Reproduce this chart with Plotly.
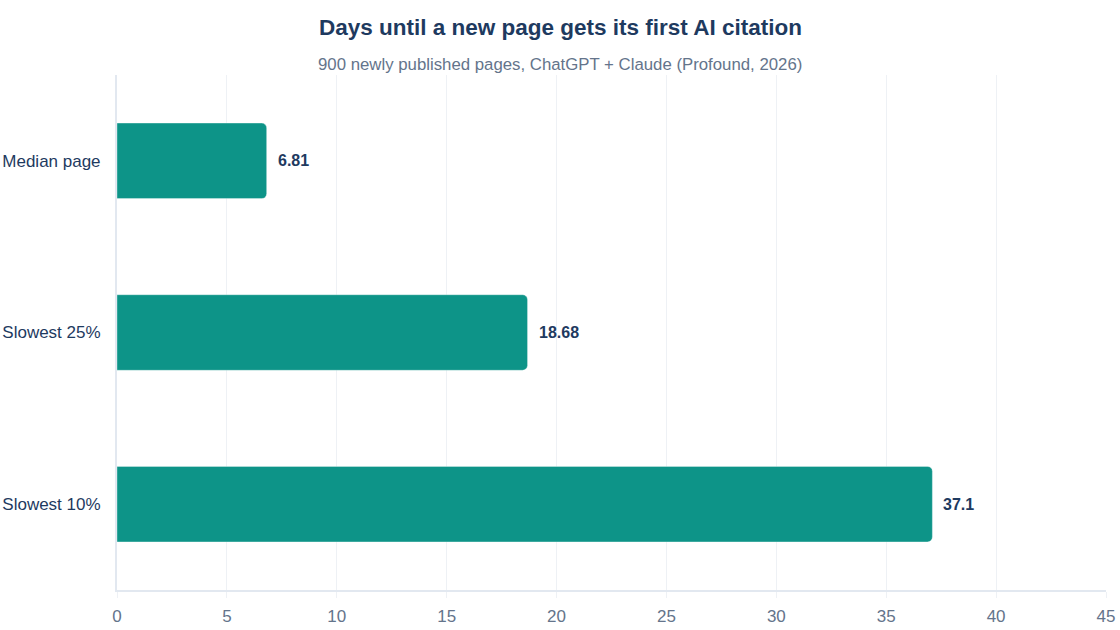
import plotly.graph_objects as go

# dane
categories = ["Median page", "Slowest 25%", "Slowest 10%"]
days = [6.81, 18.68, 37.1]
labels = ["6.81", "18.68", "37.1"]

navy = "#1e3a5f"
slate = "#64748b"
teal = "#0d9488"
font_family = "Liberation Sans, Arial, sans-serif"

fig = go.Figure()

fig.add_trace(go.Bar(
    x=days,
    y=categories,
    orientation="h",
    marker=dict(color=teal, cornerradius=5, line=dict(color="rgba(255,255,255,0.35)", width=1)),
    width=0.44,
    hoverinfo="skip",
))

# etykiety wartosci przy koncach slupkow
for c, v, t in zip(categories, days, labels):
    fig.add_annotation(
        x=v, y=c, text="<b>" + t + "</b>", showarrow=False,
        xanchor="left", xshift=9,
        font=dict(size=16, color=navy, family=font_family),
    )

# tytul i podtytul wysrodkowane na calej szerokosci
fig.add_annotation(
    xref="paper", yref="paper", x=(560 - 117) / 989, y=1, yshift=48,
    xanchor="center", yanchor="middle", showarrow=False,
    text="<b>Days until a new page gets its first AI citation</b>",
    font=dict(size=22.5, color=navy, family=font_family),
)
fig.add_annotation(
    xref="paper", yref="paper", x=(560 - 117) / 989, y=1, yshift=11,
    xanchor="center", yanchor="middle", showarrow=False,
    text="900 newly published pages, ChatGPT + Claude (Profound, 2026)",
    font=dict(size=16.8, color=slate, family=font_family),
)

fig.update_layout(
    width=1120,
    height=630,
    margin=dict(l=117, r=14, t=75, b=40),
    paper_bgcolor="white",
    plot_bgcolor="white",
    font=dict(family=font_family, color=slate, size=17),
    showlegend=False,
)

fig.update_xaxes(
    range=[0, 45],
    dtick=5,
    showgrid=True,
    gridcolor="#eef1f5",
    gridwidth=1,
    showline=True,
    linecolor="#e2e8f0",
    linewidth=2,
    ticks="outside",
    ticklen=6,
    tickcolor="#eef1f5",
    zeroline=False,
    automargin=False,
    ticklabelstandoff=4,
    tickfont=dict(size=17, color=slate),
)

fig.update_yaxes(
    autorange="reversed",
    showline=True,
    linecolor="#e2e8f0",
    linewidth=2,
    showgrid=False,
    automargin=False,
    ticklabelstandoff=11,
    tickfont=dict(size=17, color=navy),
)

# bez domyslnego marginesu strony, zeby wykres zaczynal sie od krawedzi
fig.write_html("out.html", config={"displayModeBar": False},
               post_script="document.body.style.margin='0';")
